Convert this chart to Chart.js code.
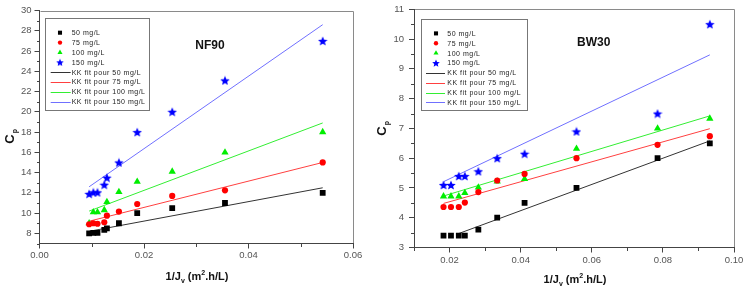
<!DOCTYPE html>
<html>
<head>
<meta charset="utf-8">
<script src="https://cdn.jsdelivr.net/npm/chart.js@4.4.1/dist/chart.umd.min.js"></script>
<style>
  html, body { margin: 0; padding: 0; background: #fff; }
  #wrap { position: relative; width: 745px; height: 292px; overflow: hidden; }
  #nf90 { position: absolute; left: 0; top: 0; }
  #bw30 { position: absolute; left: 372px; top: 0; }
</style>
</head>
<body>
<div id="wrap">
  <canvas id="nf90" width="372" height="292"></canvas>
  <canvas id="bw30" width="373" height="292"></canvas>
</div>
<script>
// ---- data ----
var seriesLabels = ["50 mg/L", "75 mg/L", "100 mg/L", "150 mg/L"];
var fitLabels = ["KK fit pour 50 mg/L", "KK fit pour 75 mg/L", "KK fit pour 100 mg/L", "KK fit pour 150 mg/L"];

// NF90
var nfX = [0.0095, 0.0103, 0.0111, 0.0124, 0.0129, 0.0152, 0.0187, 0.0254, 0.0355, 0.0542];
var nf50 = [8.0, 8.05, 8.05, 8.35, 8.5, 9.0, 10.0, 10.5, 11.0, 12.0];
var nf75 = [8.9, 9.0, 8.95, 9.1, 9.75, 10.15, 10.9, 11.7, 12.25, 15.0];
var nf100 = [9.0, 10.1, 10.1, 10.3, 11.1, 12.1, 13.1, 14.1, 16.0, 18.0];
var nf150 = [11.9, 12.05, 12.05, 12.8, 13.5, 15.0, 18.0, 20.0, 23.1, 27.0];
var nfFitX = [0.0095, 0.0542];
var nfFit50 = [8.2, 12.5];
var nfFit75 = [9.2, 15.0];
var nfFit100 = [10.2, 18.9];
var nfFit150 = [12.6, 28.6];
var nfXTicks = [0, 0.02, 0.04, 0.06];
var nfXMinor = [0.01, 0.03, 0.05];
var nfYTicks = [8, 10, 12, 14, 16, 18, 20, 22, 24, 26, 28, 30];
var nfYMinor = [7, 9, 11, 13, 15, 17, 19, 21, 23, 25, 27, 29];

// BW30
var bwX = [0.0183, 0.0204, 0.0226, 0.0243, 0.0281, 0.0334, 0.0411, 0.0557, 0.0785, 0.0932];
var bw50 = [3.4, 3.4, 3.4, 3.4, 3.6, 4.0, 4.5, 5.0, 6.0, 6.5];
var bw75 = [4.36, 4.36, 4.36, 4.51, 4.86, 5.25, 5.47, 6.0, 6.45, 6.74];
var bw100 = [4.72, 4.72, 4.72, 4.83, 5.02, 5.22, 5.3, 6.32, 7.0, 7.33];
var bw150 = [5.1, 5.1, 5.4, 5.4, 5.56, 6.0, 6.15, 6.9, 7.5, 10.5];
var bwFitX50 = [0.0226, 0.0932];
var bwFitX = [0.0183, 0.0932];
var bwFit50 = [3.47, 6.58];
var bwFit75 = [4.48, 6.99];
var bwFit100 = [4.73, 7.42];
var bwFit150 = [5.21, 9.47];
var bwXTicks = [0.02, 0.04, 0.06, 0.08, 0.10];
var bwXMinor = [0.01, 0.03, 0.05, 0.07, 0.09];
var bwYTicks = [3, 4, 5, 6, 7, 8, 9, 10, 11];
var bwYMinor = [3.5, 4.5, 5.5, 6.5, 7.5, 8.5, 9.5, 10.5];

var FONT = "'Liberation Sans', Arial, sans-serif";
var AXIS = "#444";

function makeStar(size, color) {
    var c = document.createElement("canvas");
    c.width = c.height = size;
    var g = c.getContext("2d");
    var R = size / 2, r = R * 0.45;
    g.fillStyle = color;
    g.beginPath();
    for (var i = 0; i < 10; i++) {
        var a = -Math.PI / 2 + i * Math.PI / 5;
        var d = i % 2 ? r : R;
        g.lineTo(R + d * Math.cos(a), R + 0.5 + d * Math.sin(a));
    }
    g.closePath();
    g.fill();
    return c;
}
var starBig = makeStar(10, "#0000ff");
var starSmall = makeStar(8, "#0000ff");

function pts(xs, ys) {
    return xs.map(function (x, i) { return {x: x, y: ys[i]}; });
}

function markers(label, xs, ys, style, color, radius, legendStyle) {
    return {
        label: label, data: pts(xs, ys), showLine: false,
        pointStyle: style, pointRadius: radius, pointBorderWidth: 0,
        backgroundColor: color, borderColor: color, legendStyle: legendStyle || style
    };
}

function fit(label, xs, ys, color) {
    return {
        label: label, data: pts(xs, ys), showLine: true, pointRadius: 0,
        borderColor: color, borderWidth: 1, backgroundColor: color
    };
}

function drawMarker(ctx, style, color, x, y, r) {
    ctx.fillStyle = color;
    if (style === "rect") {
        var s = r * Math.SQRT1_2;
        ctx.fillRect(x - s, y - s, 2 * s, 2 * s);
    } else if (style === "circle") {
        ctx.beginPath(); ctx.arc(x, y, r, 0, Math.PI * 2); ctx.fill();
    } else if (style === "triangle") {
        ctx.beginPath();
        for (var i = 0; i < 3; i++) {
            var a = -Math.PI / 2 + i * 2 * Math.PI / 3;
            ctx.lineTo(x + r * Math.cos(a), y + r * Math.sin(a));
        }
        ctx.closePath(); ctx.fill();
    } else if (style && style.width) {
        ctx.drawImage(style, x - style.width / 2, y - style.height / 2);
    }
}

// frame, minor ticks, legend box, titles
var decorPlugin = {
    id: "decor",
    beforeDraw: function (chart) {
        var a = chart.chartArea, ctx = chart.ctx;
        ctx.save();
        ctx.strokeStyle = "#8a8a8a";
        ctx.lineWidth = 1;
        ctx.beginPath();
        ctx.moveTo(Math.round(a.left) + 0.5, Math.round(a.top) + 0.5);
        ctx.lineTo(Math.round(a.right) + 0.5, Math.round(a.top) + 0.5);
        ctx.lineTo(Math.round(a.right) + 0.5, Math.round(a.bottom) + 0.5);
        ctx.stroke();
        ctx.restore();
    },
    afterDraw: function (chart) {
        var o = chart.options.plugins.decor, ctx = chart.ctx, a = chart.chartArea;
        var xs = chart.scales.x, ys = chart.scales.y;
        ctx.save();
        // minor ticks
        ctx.strokeStyle = AXIS;
        ctx.lineWidth = 1;
        ctx.beginPath();
        o.xMinor.forEach(function (v) {
            var px = Math.round(xs.getPixelForValue(v)) + 0.5;
            ctx.moveTo(px, Math.round(a.bottom)); ctx.lineTo(px, Math.round(a.bottom) + 3);
        });
        o.yMinor.forEach(function (v) {
            var py = Math.round(ys.getPixelForValue(v)) + 0.5;
            ctx.moveTo(Math.round(a.left), py); ctx.lineTo(Math.round(a.left) - 3, py);
        });
        ctx.stroke();

        // legend box
        var L = o.legend;
        ctx.fillStyle = "#fff";
        ctx.fillRect(L.x, L.y, L.w, L.h);
        ctx.strokeStyle = "#777";
        ctx.strokeRect(Math.round(L.x) + 0.5, Math.round(L.y) + 0.5, Math.round(L.w), Math.round(L.h));
        ctx.font = "7px " + FONT;
        ctx.letterSpacing = "0.5px";
        ctx.textBaseline = "middle";
        ctx.textAlign = "left";
        chart.data.datasets.forEach(function (ds, i) {
            var y = L.y + L.first + i * L.step;
            if (ds.showLine) {
                ctx.strokeStyle = ds.borderColor;
                ctx.beginPath();
                ctx.moveTo(L.x + L.lineFrom, Math.round(y) + 0.5);
                ctx.lineTo(L.x + L.lineTo, Math.round(y) + 0.5);
                ctx.stroke();
            } else {
                drawMarker(ctx, ds.legendStyle, ds.backgroundColor, L.x + L.mark, y, ds.pointRadius * 0.7);
            }
            ctx.fillStyle = "#222";
            ctx.fillText(ds.label, L.x + L.text, y + 0.5);
        });
        ctx.letterSpacing = "0px";

        // membrane name
        ctx.fillStyle = "#111";
        ctx.font = "bold 12px " + FONT;
        ctx.textAlign = "center";
        ctx.fillText(o.name.text, o.name.x, o.name.y);

        // y axis title: C with subscript p
        ctx.save();
        ctx.translate(o.yTitle.x, o.yTitle.y);
        ctx.rotate(-Math.PI / 2);
        ctx.textAlign = "left";
        ctx.textBaseline = "alphabetic";
        ctx.font = "bold 13px " + FONT;
        var wC = ctx.measureText("C").width;
        ctx.fillText("C", -wC / 2 - 2, 4);
        ctx.font = "bold 7px " + FONT;
        ctx.fillText("p", wC / 2 - 1, 7);
        ctx.restore();

        // x axis title: 1/Jv (m2.h/L)
        var parts = [["1/J", 0], ["v", 1], [" (m", 0], ["2", -1], [".h/L)", 0]];
        var big = "bold 11px " + FONT, small = "bold 7px " + FONT;
        var total = 0;
        parts.forEach(function (p) { ctx.font = p[1] ? small : big; total += ctx.measureText(p[0]).width; });
        var cx = o.xTitle.x - total / 2;
        ctx.textAlign = "left";
        ctx.textBaseline = "alphabetic";
        parts.forEach(function (p) {
            ctx.font = p[1] ? small : big;
            ctx.fillText(p[0], cx, o.xTitle.y + (p[1] === 1 ? 3 : p[1] === -1 ? -5 : 0));
            cx += ctx.measureText(p[0]).width;
        });
        ctx.restore();
    }
};

function axisX(min, max, ticks, height, pad) {
    return {
        type: "linear", min: min, max: max,
        afterBuildTicks: function (s) { s.ticks = ticks.map(function (v) { return {value: v}; }); },
        afterFit: function (s) { s.height = height; s.paddingLeft = 0; s.paddingRight = 0; },
        grid: {drawOnChartArea: false, drawTicks: true, tickLength: 5, tickColor: AXIS},
        border: {color: AXIS, width: 1},
        ticks: {
            color: "#555", padding: pad, font: {family: FONT, size: 9.5},
            maxRotation: 0, autoSkip: false,
            callback: function (v) { return v.toFixed(2); }
        }
    };
}

function axisY(min, max, ticks, width, pad) {
    return {
        type: "linear", min: min, max: max,
        afterBuildTicks: function (s) { s.ticks = ticks.map(function (v) { return {value: v}; }); },
        afterFit: function (s) { s.width = width; s.paddingTop = 0; s.paddingBottom = 0; },
        grid: {drawOnChartArea: false, drawTicks: true, tickLength: 5, tickColor: AXIS},
        border: {color: AXIS, width: 1},
        ticks: {color: "#555", padding: pad, font: {family: FONT, size: 9.5}, autoSkip: false}
    };
}

function makeChart(id, datasets, scales, padding, decor) {
    return new Chart(document.getElementById(id), {
        type: "scatter",
        data: {datasets: datasets},
        options: {
            responsive: false,
            animation: false,
            layout: {padding: padding},
            scales: scales,
            plugins: {legend: {display: false}, tooltip: {enabled: false}, decor: decor}
        },
        plugins: [decorPlugin]
    });
}

makeChart("nf90", [
    markers(seriesLabels[0], nfX, nf50, "rect", "#000000", 4.1),
    markers(seriesLabels[1], nfX, nf75, "circle", "#ff0000", 3.1),
    markers(seriesLabels[2], nfX, nf100, "triangle", "#00ee00", 4.2),
    markers(seriesLabels[3], nfX, nf150, starBig, "#0000ff", 5, starSmall),
    fit(fitLabels[0], nfFitX, nfFit50, "#333333"),
    fit(fitLabels[1], nfFitX, nfFit75, "#ff4040"),
    fit(fitLabels[2], nfFitX, nfFit100, "#33ee33"),
    fit(fitLabels[3], nfFitX, nfFit150, "#7070ff")
], {
    x: axisX(0, 0.06, nfXTicks, 48.5, 1),
    y: axisY(7, 30, nfYTicks, 39.5, 3)
}, {left: 0, top: 10.5, right: 19, bottom: 0}, {
    xMinor: nfXMinor, yMinor: nfYMinor,
    legend: {x: 45, y: 18.3, w: 104, h: 91.7, first: 14.4, step: 9.86, mark: 15, text: 26.7, lineFrom: 5.7, lineTo: 25.7},
    name: {text: "NF90", x: 210, y: 46},
    yTitle: {x: 10, y: 137},
    xTitle: {x: 197, y: 280}
});

makeChart("bw30", [
    markers(seriesLabels[0], bwX, bw50, "rect", "#000000", 4.1),
    markers(seriesLabels[1], bwX, bw75, "circle", "#ff0000", 3.1),
    markers(seriesLabels[2], bwX, bw100, "triangle", "#00ee00", 4.2),
    markers(seriesLabels[3], bwX, bw150, starBig, "#0000ff", 5, starSmall),
    fit(fitLabels[0], bwFitX50, bwFit50, "#333333"),
    fit(fitLabels[1], bwFitX, bwFit75, "#ff4040"),
    fit(fitLabels[2], bwFitX, bwFit100, "#33ee33"),
    fit(fitLabels[3], bwFitX, bwFit150, "#7070ff")
], {
    x: axisX(0.01, 0.10, bwXTicks, 44.5, 2),
    y: axisY(3, 11, bwYTicks, 42, 5)
}, {left: 0, top: 9.3, right: 11, bottom: 0}, {
    xMinor: bwXMinor, yMinor: bwYMinor,
    legend: {x: 48.7, y: 19, w: 106, h: 91, first: 14.4, step: 9.86, mark: 15.3, text: 26.6, lineFrom: 5.3, lineTo: 24.3},
    name: {text: "BW30", x: 221.7, y: 43},
    yTitle: {x: 10, y: 129},
    xTitle: {x: 203, y: 283}
});
</script>
</body>
</html>
